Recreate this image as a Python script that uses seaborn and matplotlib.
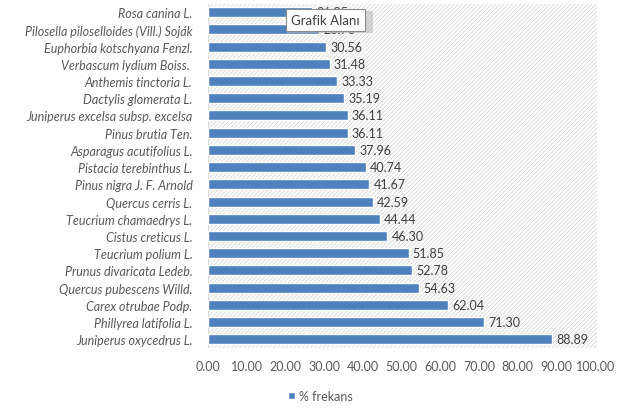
import matplotlib
matplotlib.use("Agg")
import matplotlib.pyplot as plt
from matplotlib.patches import Rectangle, Patch
import seaborn as sns
import pandas as pd

species = [
    "Rosa canina L.",
    "Pilosella piloselloides (Vill.) Soják",
    "Euphorbia kotschyana Fenzl.",
    "Verbascum lydium Boiss. ",
    "Anthemis tinctoria L.",
    "Dactylis glomerata L.",
    "Juniperus excelsa subsp. excelsa",
    "Pinus brutia Ten.",
    "Asparagus acutifolius L.",
    "Pistacia terebinthus L.",
    "Pinus nigra J. F. Arnold",
    "Quercus cerris L.",
    "Teucrium chamaedrys L.",
    "Cistus creticus L.",
    "Teucrium polium L.",
    "Prunus divaricata Ledeb.",
    "Quercus pubescens Willd.",
    "Carex otrubae Podp.",
    "Phillyrea latifolia L.",
    "Juniperus oxycedrus L.",
]
frekans = [26.85, 28.70, 30.56, 31.48, 33.33, 35.19, 36.11, 36.11, 37.96, 40.74,
           41.67, 42.59, 44.44, 46.30, 51.85, 52.78, 54.63, 62.04, 71.30, 88.89]
x_ticks = [0, 10, 20, 30, 40, 50, 60, 70, 80, 90, 100]

BAR_COLOR = "#4F81BD"
TEXT_COLOR = "#595959"
FS = 9

sns.set_theme(style="white")
plt.rcParams["font.family"] = ["Lato", "DejaVu Sans"]

df = pd.DataFrame({"Tür": species, "% frekans": frekans})

fig = plt.figure(figsize=(6.22, 4.10), dpi=100)
ax = fig.add_axes([0.334, 0.149, 0.626, 0.840])

# hatched plot area like the Excel pattern fill
plt.rcParams["hatch.linewidth"] = 0.5
ax.add_patch(Rectangle((0, 0), 1, 1, transform=ax.transAxes, facecolor="white",
                       edgecolor="#D0D0D0", hatch="////////", linewidth=0, zorder=0))

sns.barplot(data=df, x="% frekans", y="Tür", orient="h", color=BAR_COLOR,
            saturation=1, width=0.58, ax=ax, zorder=2)

for cont in ax.containers:
    ax.bar_label(cont, fmt="%.2f", padding=3, fontsize=FS, color="#404040", zorder=3)

ax.set_xlim(0, 100.5)
ax.set_xticks(x_ticks)
ax.set_xticklabels([f"{v:.2f}" for v in x_ticks], fontsize=FS, color=TEXT_COLOR)
ax.tick_params(axis="x", pad=9, length=0)
ax.tick_params(axis="y", length=0, pad=11)
for lab in ax.get_yticklabels():
    lab.set_fontstyle("italic")
    lab.set_fontsize(FS)
    lab.set_color(TEXT_COLOR)
ax.set_xlabel("")
ax.set_ylabel("")
for s in ax.spines.values():
    s.set_visible(False)
ax.axvline(0, color="#D9D9D9", linewidth=0.8, zorder=1)

fig.legend(handles=[Patch(facecolor=BAR_COLOR, label="% frekans")],
           loc="center", bbox_to_anchor=(0.515, 0.032), frameon=False,
           handlelength=0.6, handleheight=0.6, handletextpad=0.3,
           prop={"size": FS}, labelcolor=TEXT_COLOR)

# hover tooltip captured in the screenshot (with a soft drop shadow)
tip_x, tip_y = 0.523, 0.949
fig.patches.append(Rectangle((0.462, 0.918), 0.137, 0.052, transform=fig.transFigure,
                             facecolor="#BBBBBB", edgecolor="none", alpha=0.6, zorder=9))
fig.text(tip_x, tip_y, "Grafik Alanı", ha="center", va="center", fontsize=9.5,
         color="#404040", zorder=10,
         bbox=dict(boxstyle="square,pad=0.4", facecolor="white", edgecolor="#8C8C8C",
                   linewidth=0.8))

fig.savefig("out.png", dpi=100)
